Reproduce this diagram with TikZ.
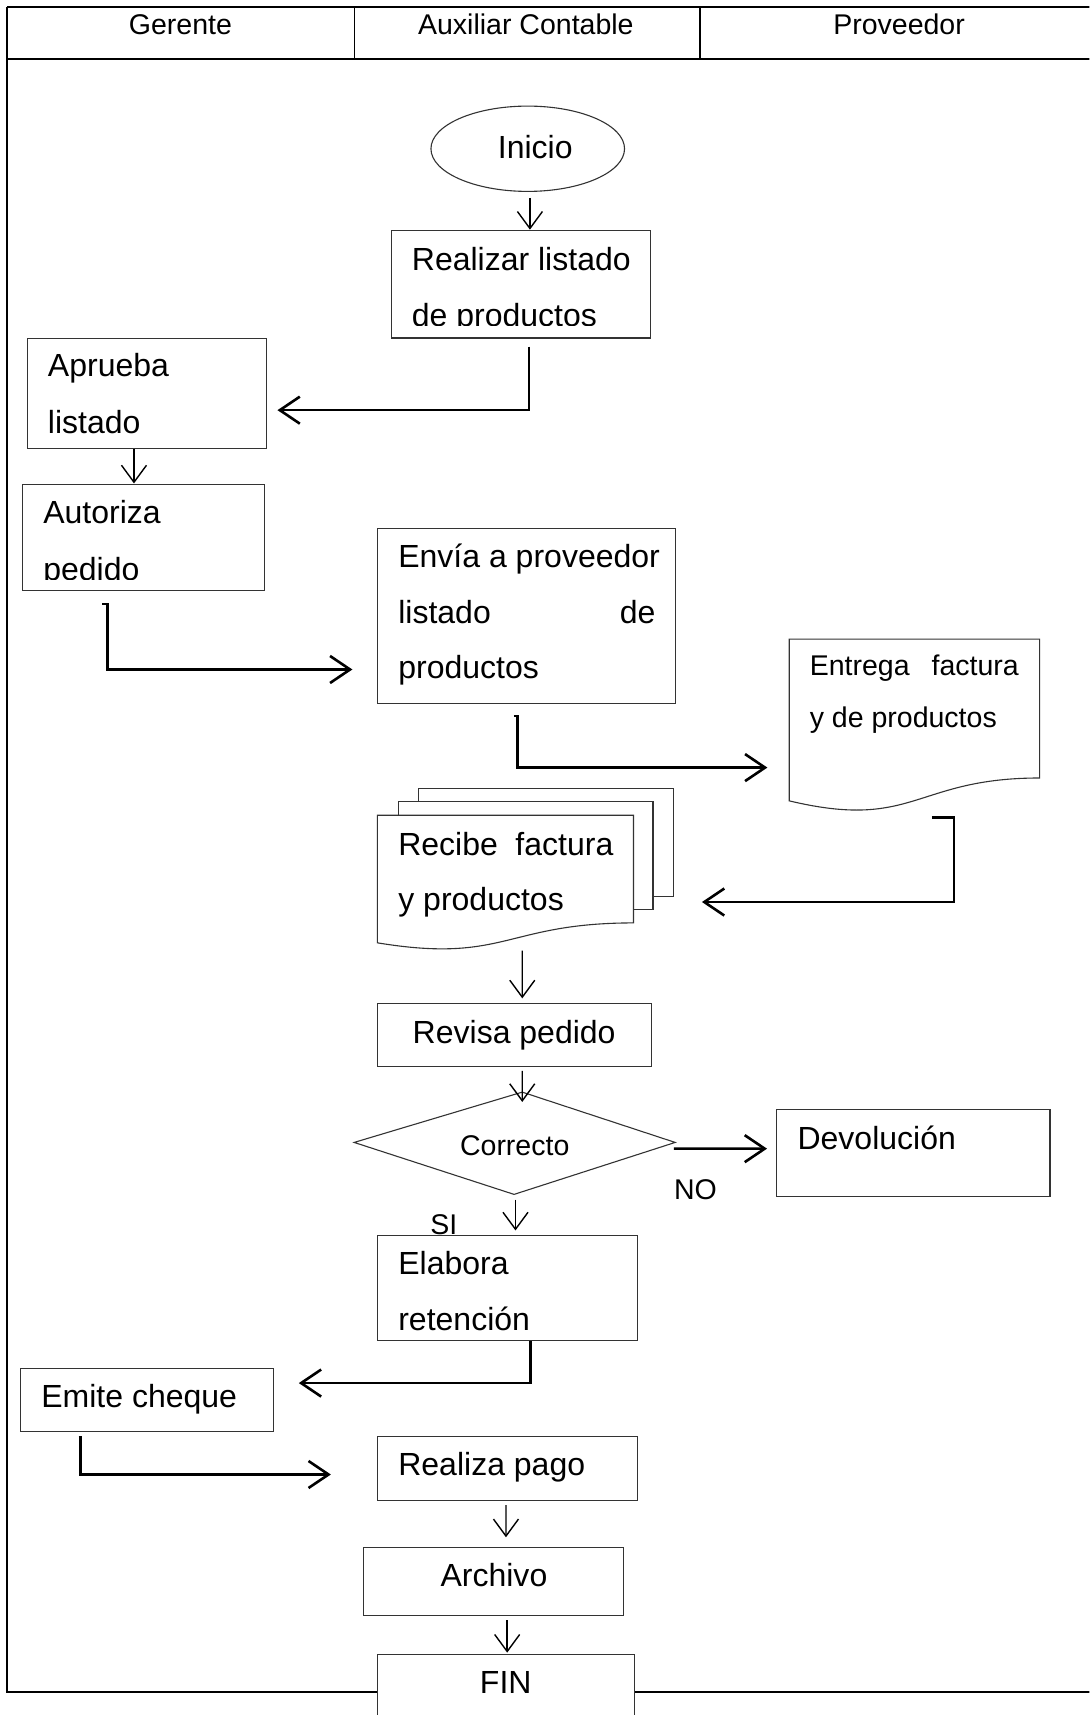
\documentclass[tikz,border=0pt]{standalone}
\usepackage{fontspec}
\setmainfont{Liberation Sans}
\usetikzlibrary{arrows.meta,shapes.geometric,fit}
\newcommand\uu{1.0934pt}
\begin{document}
\begin{tikzpicture}[x=1.0934pt,y=-1.0934pt,
  frameline/.style={line width=2.2pt,black},
  sepline/.style={line width=1.6pt,black},
  box/.style={draw=black!80,line width=1.1pt,rectangle,inner sep=0pt},
  ghost/.style={rectangle,inner sep=0pt},
  docline/.style={draw=black!80,line width=1.1pt,line join=miter},
  thinarrow/.style={line width=1.4pt,-{Straight Barb[length=17pt,width=25pt]}},
  elbow/.style={line width=2.6pt,-{Straight Barb[length=20pt,width=27pt]}},
  txt/.style={inner sep=0pt,anchor=base west,font=\fontsize{32}{38}\selectfont},
  ctxt/.style={inner sep=0pt,anchor=base,font=\fontsize{32}{38}\selectfont},
  stxt/.style={inner sep=0pt,anchor=base west,font=\fontsize{28.5}{34}\selectfont},
  sctxt/.style={inner sep=0pt,anchor=base,font=\fontsize{28.5}{34}\selectfont},
  hdr/.style={inner sep=0pt,anchor=base,font=\fontsize{28.5}{34}\selectfont}]
\clip (0,0) rectangle (996,1568);
\fill[white] (0,0) rectangle (996,1568);

% frame / swimlane header
\draw[frameline] (6.5,6.1) -- (1010,6.1);
\draw[frameline] (6.5,53.7) -- (1010,53.7);
\draw[sepline] (324,6.1) -- (324,53.7);
\draw[sepline] (640,6.1) -- (640,53.7);
\draw[frameline] (6.5,6.1) -- (6.5,1547.2) -- (1010,1547.2);
\node[hdr] (hg) at (165,31.4) {Gerente};
\node[hdr] (ha) at (480.8,31.4) {Auxiliar Contable};
\node[hdr] (hp) at (822,31.4) {Proveedor};

% Inicio
\node[draw=black!80,line width=1.1pt,ellipse,inner sep=0pt,minimum width=177*\uu,minimum height=78*\uu] (inicio) at (482.5,136) {};
\node[ctxt] (tinicio) at (489.4,144.8) {Inicio};

% Realizar listado
\node[box,fit={(358,211) (594.5,309)}] (realizar) {};
\node[txt] (trea1) at (376.4,247) {Realizar listado};
\begin{scope}
\clip (358,211) rectangle (594.5,297.3);
\node[txt] (trea2) at (376.4,298.5) {de productos};
\end{scope}

% Aprueba listado
\node[box,fit={(25.3,309.4) (243.8,410)}] (aprueba) {};
\node[txt] (tapr1) at (43.7,344.5) {Aprueba};
\node[txt] (tapr2) at (43.7,396.3) {listado};

% Autoriza pedido
\node[box,fit={(20.7,443) (241.5,540.2)}] (autoriza) {};
\node[txt] (taut1) at (39.4,478.6) {Autoriza};
\begin{scope}
\clip (20.7,443) rectangle (241.5,529.8);
\node[txt] (taut2) at (39.4,531) {pedido};
\end{scope}

% Envia a proveedor
\node[box,fit={(345,483.2) (617.4,643.2)}] (envia) {};
\node[txt] (tenv1) at (364,519) {Envía a proveedor};
\node[txt] (tenv2) at (364,570) {\makebox[257pt][s]{listado de}};
\node[txt] (tenv3) at (364,620.5) {productos};

% Entrega factura (document)
\draw[docline] (721.6,584.4) -- (950.5,584.4) -- (950.5,711.3)
  .. controls (836,711.3) and (836,759.6) .. (721.6,732.2) -- cycle;
\node[ghost,fit={(721.6,584.4) (950.5,741)}] (entrega) {};
\node[stxt] (tent1) at (740.2,618) {\makebox[209pt][s]{Entrega factura}};
\node[stxt] (tent2) at (740.2,665.5) {y de productos};

% Recibe factura (multi-document)
\draw[docline] (383,733.2) -- (383,721) -- (616,721) -- (616,819.5) -- (597,819.5);
\draw[docline] (364,745.4) -- (364,733.2) -- (597,733.2) -- (597,831.6) -- (579.2,831.6);
\draw[docline,fill=white] (345,745.4) -- (579.2,745.4) -- (579.2,843.8)
  .. controls (462,843.8) and (462,881.3) .. (345,862) -- cycle;
\node[ghost,fit={(345,721) (616,867)}] (recibe) {};
\node[txt] (trec1) at (364,782.6) {\makebox[215pt][s]{Recibe factura}};
\node[txt] (trec2) at (364,832.5) {y productos};

% Revisa pedido
\node[box,fit={(344.8,917.3) (595.4,975)}] (revisa) {};
\node[ctxt] (trev) at (470.1,953.9) {Revisa pedido};

% Correcto (decision)
\coordinate (dtop) at (477.5,998.5);
\coordinate (dright) at (617.3,1044.5);
\coordinate (dbot) at (470,1092);
\coordinate (dleft) at (323.8,1044.5);
\draw[docline] (dtop) -- (dright) -- (dbot) -- (dleft) -- cycle;
\node[sctxt] (tcor) at (470.6,1056.3) {Correcto};
\node[sctxt] (tno) at (635.8,1096.9) {NO};
\node[sctxt] (tsi) at (405.7,1129) {SI};

% Devolucion
\node[box,fit={(710,1014.5) (960,1093.8)}] (devolucion) {};
\node[txt] (tdev) at (729,1051) {Devolución};

% Elabora retencion
\node[box,fit={(345,1129.5) (583,1225.6)}] (elabora) {};
\node[txt] (tela1) at (364,1165.5) {Elabora};
\node[txt] (tela2) at (364,1216.4) {retención};

% Emite cheque
\node[box,fit={(18.8,1250.8) (249.9,1308.8)}] (emite) {};
\node[txt] (temi) at (37.6,1287.1) {Emite cheque};

% Realiza pago
\node[box,fit={(345,1313.3) (583,1371.9)}] (realiza) {};
\node[txt] (trep) at (364,1349) {Realiza pago};

% Archivo
\node[box,fit={(332.7,1414.5) (570.4,1477)}] (archivo) {};
\node[ctxt] (tarc) at (451.6,1450.2) {Archivo};

% FIN
\node[box,fill=white,fit={(345,1512.7) (580.5,1600)}] (fin) {};
\node[ctxt] (tfin) at (462.4,1548.7) {FIN};

% connectors
\draw[thinarrow] ([shift={(2,5.5)}]inicio.south) -- ([shift={(8.25,-0.5)}]realizar.north);
\draw[elbow] ([shift={(7.55,7.4)}]realizar.south) |- ([shift={(9.4,15.3)}]aprueba.east);
\draw[thinarrow] ([shift={(-12.05,0)}]aprueba.south) -- ([shift={(-8.6,-0.5)}]autoriza.north);
\draw[elbow] ([shift={(-37.8,11.6)}]autoriza.south) -- ++(5.1,0) |- ([shift={(-22.3,48.9)}]envia.west);
\draw[elbow] ([shift={(-11.4,10.8)}]envia.south) -- ++(3.4,0) |- ([shift={(-19.8,39.1)}]entrega.west);
\draw[elbow] ([shift={(15.85,6.5)}]entrega.south) -- ++(20.4,0) |- ([shift={(25.6,30.7)}]recibe.east);
\draw[thinarrow] ([shift={(-3,2)}]recibe.south) -- ([shift={(7.4,-4)}]revisa.north);
\draw[thinarrow] ([shift={(7.4,3.6)}]revisa.south) -- ([shift={(0,9)}]dtop);
\draw[elbow] ([shift={(-1.3,5.7)}]dright) -- ([shift={(-8.2,-3.95)}]devolucion.west);
\draw[thinarrow] ([shift={(1.3,4.9)}]dbot) -- ([shift={(7.3,-4)}]elabora.north);
\draw[elbow] ([shift={(21,0)}]elabora.south) |- ([shift={(22.8,-15.3)}]emite.east);
\draw[elbow] ([shift={(-62.45,4.5)}]emite.south) -- ++(1.6,0) |- ([shift={(-42,5.5)}]realiza.west);
\draw[thinarrow] ([shift={(-1.4,3.6)}]realiza.south) -- ([shift={(11.05,-8.5)}]archivo.north);
\draw[thinarrow] ([shift={(12.15,3.8)}]archivo.south) -- ([shift={(0.95,-1.2)}]fin.north);
\end{tikzpicture}
\end{document}
